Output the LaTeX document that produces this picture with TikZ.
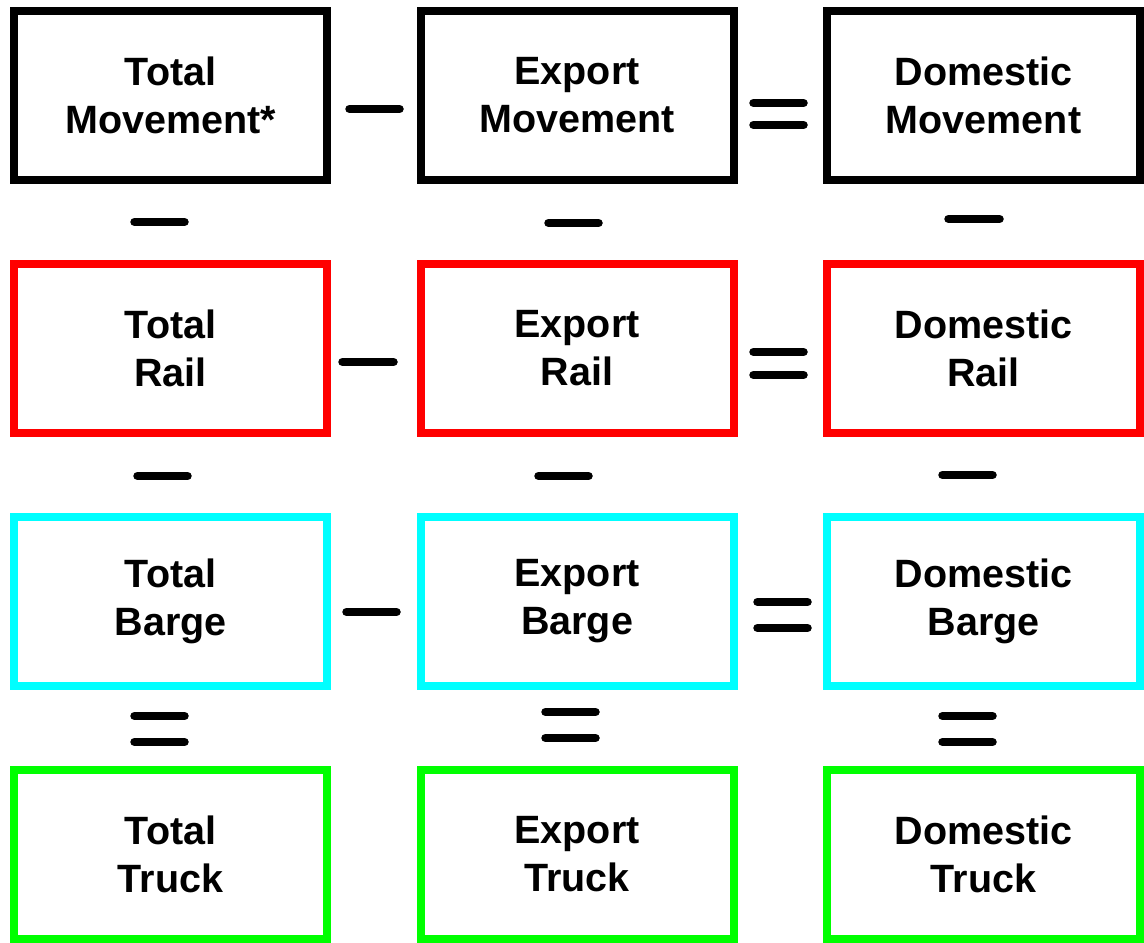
\documentclass[tikz,border=0pt]{standalone}
\usepackage{fontspec}
\setmainfont{Liberation Sans}
\definecolor{railred}{RGB}{255,0,0}
\definecolor{bargecyan}{RGB}{0,255,255}
\definecolor{truckgreen}{RGB}{0,255,0}
\tikzset{
  cell/.style={draw=#1, line width=8pt, minimum width=313pt, minimum height=169pt,
    inner sep=0pt, align=center, font=\bfseries\fontsize{39.5}{48}\selectfont},
  opbar/.style={line width=8.5pt, line cap=round, black}
}
\begin{document}
\begin{tikzpicture}[x=1pt,y=-1pt]
  \useasboundingbox (0,0) rectangle (1144,943);

  % grid of boxes: columns Total / Export / Domestic, rows by mode
  \node[cell=black] (tm) at (170.5,95.5) {Total\\Movement*};
  \node[cell=black] (em) at (577,95.5) {Export\\Movement};
  \node[cell=black] (dm) at (983.5,95.5) {Domestic\\Movement};

  \node[cell=railred] (tr) at (170.5,348.5) {Total\\Rail};
  \node[cell=railred] (er) at (577,348.5) {Export\\Rail};
  \node[cell=railred] (dr) at (983.5,348.5) {Domestic\\Rail};

  \node[cell=bargecyan] (tb) at (170.5,601.5) {Total\\Barge};
  \node[cell=bargecyan] (eb) at (577,601.5) {Export\\Barge};
  \node[cell=bargecyan] (db) at (983.5,601.5) {Domestic\\Barge};

  \node[cell=truckgreen] (tt) at (170.5,854.5) {Total\\Truck};
  \node[cell=truckgreen] (et) at (577,854.5) {Export\\Truck};
  \node[cell=truckgreen] (dt) at (983.5,854.5) {Domestic\\Truck};

  % row operators: Total - Export = Domestic
  \draw[opbar] (349.5,109) -- (399.5,109);
  \draw[opbar] (753.5,103) -- (803.5,103);
  \draw[opbar] (753.5,125) -- (803.5,125);

  \draw[opbar] (342.5,362) -- (393.5,362);
  \draw[opbar] (753.5,352) -- (803.5,352);
  \draw[opbar] (753.5,375) -- (803.5,375);

  \draw[opbar] (346.5,612) -- (396.5,612);
  \draw[opbar] (757.5,602) -- (807.5,602);
  \draw[opbar] (757.5,628) -- (807.5,628);

  % column operators: Movement - Rail - Barge = Truck
  \draw[opbar] (134.5,222) -- (184.5,222);
  \draw[opbar] (548.5,223) -- (598.5,223);
  \draw[opbar] (948.5,219) -- (999.5,219);

  \draw[opbar] (137.5,476) -- (187.5,476);
  \draw[opbar] (538.5,476) -- (588.5,476);
  \draw[opbar] (942.5,475) -- (992.5,475);

  \draw[opbar] (134.5,716) -- (184.5,716);
  \draw[opbar] (134.5,742) -- (184.5,742);
  \draw[opbar] (545.5,712) -- (595.5,712);
  \draw[opbar] (545.5,738) -- (595.5,738);
  \draw[opbar] (942.5,716) -- (992.5,716);
  \draw[opbar] (942.5,742) -- (992.5,742);
\end{tikzpicture}
\end{document}
